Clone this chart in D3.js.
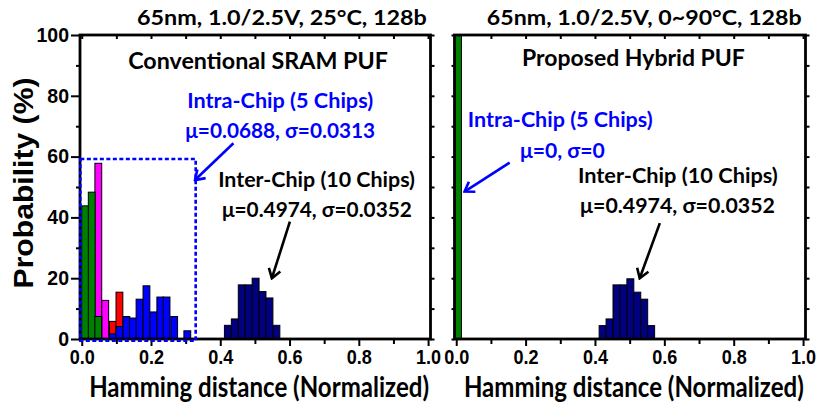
<!DOCTYPE html>
<html>
<head>
<meta charset="utf-8">
<script src="https://cdn.jsdelivr.net/npm/d3@7"></script>
<style>
  body { margin: 0; background: #fff; }
  .lbl { font-family: Lato, "Open Sans", sans-serif; font-weight: bold; }
  .num { font-family: "Liberation Sans", Arial, sans-serif; font-weight: bold; }
</style>
</head>
<body>
<div id="chart"></div>
<script>
// ---- data (normalized HD bins, probability %) ----
var intraBins = [0.000, 0.019, 0.038, 0.058, 0.080, 0.099, 0.119, 0.138,
                 0.157, 0.177, 0.197, 0.217, 0.235, 0.257, 0.276, 0.295];
var intraGreen   = [43.8, 48.3, 7.4, 0, 0, 0, 0, 0, 0, 0, 0, 0, 0, 0, 0, 0];
var intraMagenta = [0, 0, 57.8, 12.7, 0, 0, 0, 0, 0, 0, 0, 0, 0, 0, 0, 0];
var intraRed     = [0, 0, 0, 0, 5.8, 15.4, 0, 0, 0, 0, 0, 0, 0, 0, 0, 0];
var intraBlue    = [0, 0, 0, 0, 1.7, 4.1, 7.4, 6.9, 13.1, 17.5, 8.9, 13.8, 13.8, 7.4, 0, 2.7];

var interBins = [0.412, 0.432, 0.452, 0.472, 0.492, 0.512, 0.532, 0.552];
var interConv   = [4.5, 6.6, 17.8, 17.8, 20.0, 15.6, 13.5, 4.5];
var interHybrid = [4.4, 6.6, 17.8, 17.8, 19.8, 15.4, 13.1, 4.4];

var hybridIntraBins = [-0.005];
var hybridIntra     = [100];

var xTicks = [0, 0.2, 0.4, 0.6, 0.8, 1.0];
var xMinor = [0.1, 0.3, 0.5, 0.7, 0.9];
var xAll   = [0, 0.1, 0.2, 0.3, 0.4, 0.5, 0.6, 0.7, 0.8, 0.9, 1.0];
var yTicks = [0, 20, 40, 60, 80, 100];
var yMinor = [10, 30, 50, 70, 90];
var yAll   = [0, 10, 20, 30, 40, 50, 60, 70, 80, 90, 100];

var intraWidth = 0.0197;
var interWidth = 0.02;

var width = 817, height = 408;

var svg = d3.select("#chart").append("svg")
  .attr("width", width)
  .attr("height", height);

// arrow heads
var defs = svg.append("defs");
[["arrBlue", "#0000ff"], ["arrBlack", "#000"]].forEach(function(m) {
  defs.append("marker")
    .attr("id", m[0])
    .attr("viewBox", "-12 -8 14 16")
    .attr("refX", 0).attr("refY", 0)
    .attr("markerWidth", 14).attr("markerHeight", 16)
    .attr("markerUnits", "userSpaceOnUse")
    .attr("orient", "auto")
    .append("path")
    .attr("d", "M-9,-6L0,0L-9,6")
    .attr("fill", "none")
    .attr("stroke", m[1])
    .attr("stroke-width", 2.6);
});

var y = d3.scaleLinear().domain([0, 100]).range([339, 35]);

function drawBars(g, x, bins, vals, w, color) {
  g.append("g").selectAll("rect")
    .data(vals.map(function(v, i) { return { x: bins[i], v: v }; })
      .filter(function(d) { return d.v > 0; }))
    .enter().append("rect")
    .attr("x", function(d) { return x(d.x); })
    .attr("width", function(d) { return x(d.x + w) - x(d.x); })
    .attr("y", function(d) { return y(d.v); })
    .attr("height", function(d) { return y(0) - y(d.v); })
    .attr("fill", color)
    .attr("stroke", "#000")
    .attr("stroke-width", 1);
}

// text squeezed horizontally to the width it has in the figure
function fitText(g, cls, t, px, py, size, len, color, rot) {
  var txt = g.append("text")
    .attr("class", cls)
    .attr("text-anchor", "middle")
    .attr("font-size", size)
    .attr("fill", color || "#000")
    .text(t);
  var sx = len / txt.node().getComputedTextLength();
  txt.attr("transform", "translate(" + px + "," + py + ")" +
    (rot ? "rotate(" + rot + ")" : "") + "scale(" + sx + ",1)");
  return txt;
}

function note(g, x, t, px, py, size, len, color) {
  fitText(g, "lbl", t, x(px), y(py), size, len, color);
}

function arrow(g, x, a, b, color, id) {
  g.append("line")
    .attr("x1", x(a[0])).attr("y1", y(a[1]))
    .attr("x2", x(b[0])).attr("y2", y(b[1]))
    .attr("stroke", color)
    .attr("stroke-width", 2.6)
    .attr("marker-end", "url(#" + id + ")");
}

function styleAxis(sel) {
  sel.select(".domain").remove();
  sel.selectAll("line").attr("stroke", "#000").attr("stroke-width", 2);
}

/**
* One histogram panel with ticks and axis title
*/
function panel(x0, x1, withLabels) {
  var x = d3.scaleLinear().domain([-0.005, 1.007]).range([x0, x1]);
  var g = svg.append("g");

  // bottom axis, major + minor
  g.append("g").attr("transform", "translate(0," + y(0) + ")")
    .call(d3.axisBottom(x).tickValues(xTicks).tickSize(7).tickPadding(3)
      .tickFormat(d3.format(".1f")))
    .call(styleAxis)
    .selectAll("text")
    .attr("class", "num").attr("font-size", 21).attr("fill", "#000")
    .attr("transform", "scale(0.86,1)");
  g.append("g").attr("transform", "translate(0," + y(0) + ")")
    .call(d3.axisBottom(x).tickValues(xMinor).tickSize(5).tickFormat(""))
    .call(styleAxis);

  // top axis, small inward ticks
  g.append("g").attr("transform", "translate(0," + y(100) + ")")
    .call(d3.axisTop(x).tickValues(xAll).tickSize(-4).tickFormat(""))
    .call(styleAxis);

  // left axis
  if (withLabels) {
    g.append("g").attr("transform", "translate(" + x0 + ",0)")
      .call(d3.axisLeft(y).tickValues(yTicks).tickSize(9).tickPadding(2))
      .call(styleAxis)
      .selectAll("text")
      .attr("class", "num").attr("font-size", 19.5).attr("fill", "#000");
    g.append("g").attr("transform", "translate(" + x0 + ",0)")
      .call(d3.axisLeft(y).tickValues(yMinor).tickSize(4).tickFormat(""))
      .call(styleAxis);
  } else {
    g.append("g").attr("transform", "translate(" + x0 + ",0)")
      .call(d3.axisLeft(y).tickValues(yAll).tickSize(3).tickFormat(""))
      .call(styleAxis);
  }

  // right axis, small ticks
  g.append("g").attr("transform", "translate(" + x1 + ",0)")
    .call(d3.axisRight(y).tickValues(yAll).tickSize(4).tickFormat(""))
    .call(styleAxis);

  // x axis title
  fitText(g, "lbl", "Hamming distance (Normalized)", x(0.512), 397, 28.5, 340);

  return { g: g, x: x };
}

function frame(p, x0, x1) {
  p.g.append("rect")
    .attr("x", x0).attr("y", y(100))
    .attr("width", x1 - x0).attr("height", y(0) - y(100))
    .attr("fill", "none")
    .attr("stroke", "#000")
    .attr("stroke-width", 2.8);
}

// ---- left: conventional SRAM PUF ----
var L = panel(80, 430.5, true);
drawBars(L.g, L.x, intraBins, intraMagenta, intraWidth, "#ff00ff");
drawBars(L.g, L.x, intraBins, intraRed, intraWidth, "#ff0000");
drawBars(L.g, L.x, intraBins, intraGreen, intraWidth, "#008000");
drawBars(L.g, L.x, intraBins, intraBlue, intraWidth, "#0000ff");
drawBars(L.g, L.x, interBins, interConv, interWidth, "#000080");
frame(L, 80, 430.5);

// dashed box round the intra-chip distribution
L.g.append("rect")
  .attr("x", L.x(-0.004)).attr("y", y(59.2))
  .attr("width", L.x(0.329) - L.x(-0.004))
  .attr("height", y(-0.6) - y(59.2))
  .attr("fill", "none")
  .attr("stroke", "#0000ff")
  .attr("stroke-width", 2.6)
  .attr("stroke-dasharray", "4,2.5");

note(L.g, L.x, "65nm, 1.0/2.5V, 25°C, 128b", 0.578, 103.3, 21, 290);
note(L.g, L.x, "Conventional SRAM PUF", 0.509, 88.8, 23.5, 260);
note(L.g, L.x, "Intra-Chip (5 Chips)", 0.573, 76.0, 21, 186, "#0000ff");
note(L.g, L.x, "\u03bc=0.0688, \u03c3=0.0313", 0.573, 66.2, 21, 190, "#0000ff");
note(L.g, L.x, "Inter-Chip (10 Chips)", 0.678, 50.0, 21, 197);
note(L.g, L.x, "\u03bc=0.4974, \u03c3=0.0352", 0.679, 40.1, 21, 190);
arrow(L.g, L.x, [0.438, 64.4], [0.327, 52.3], "#0000ff", "arrBlue");
arrow(L.g, L.x, [0.601, 38.6], [0.549, 20.0], "#000", "arrBlack");

// ---- right: proposed hybrid PUF ----
var R = panel(454.5, 805.5, false);
drawBars(R.g, R.x, hybridIntraBins, hybridIntra, interWidth, "#008000");
drawBars(R.g, R.x, interBins, interHybrid, interWidth, "#000080");
frame(R, 454.5, 805.5);

note(R.g, R.x, "65nm, 1.0/2.5V, 0~90°C, 128b", 0.542, 103.3, 21, 315);
note(R.g, R.x, "Proposed Hybrid PUF", 0.511, 89.8, 22.3, 223);
note(R.g, R.x, "Intra-Chip (5 Chips)", 0.300, 69.8, 21, 185, "#0000ff");
note(R.g, R.x, "\u03bc=0, \u03c3=0", 0.306, 59.6, 21, 85, "#0000ff");
note(R.g, R.x, "Inter-Chip (10 Chips)", 0.639, 51.4, 21, 200);
note(R.g, R.x, "\u03bc=0.4974, \u03c3=0.0352", 0.638, 41.5, 21, 195);
arrow(R.g, R.x, [0.154, 58.0], [0.024, 48.5], "#0000ff", "arrBlue");
arrow(R.g, R.x, [0.587, 38.1], [0.529, 20.0], "#000", "arrBlack");

// y axis title
fitText(svg, "num", "Probability (%)", 33, 183, 28, 211, "#000", -90);
</script>
</body>
</html>
